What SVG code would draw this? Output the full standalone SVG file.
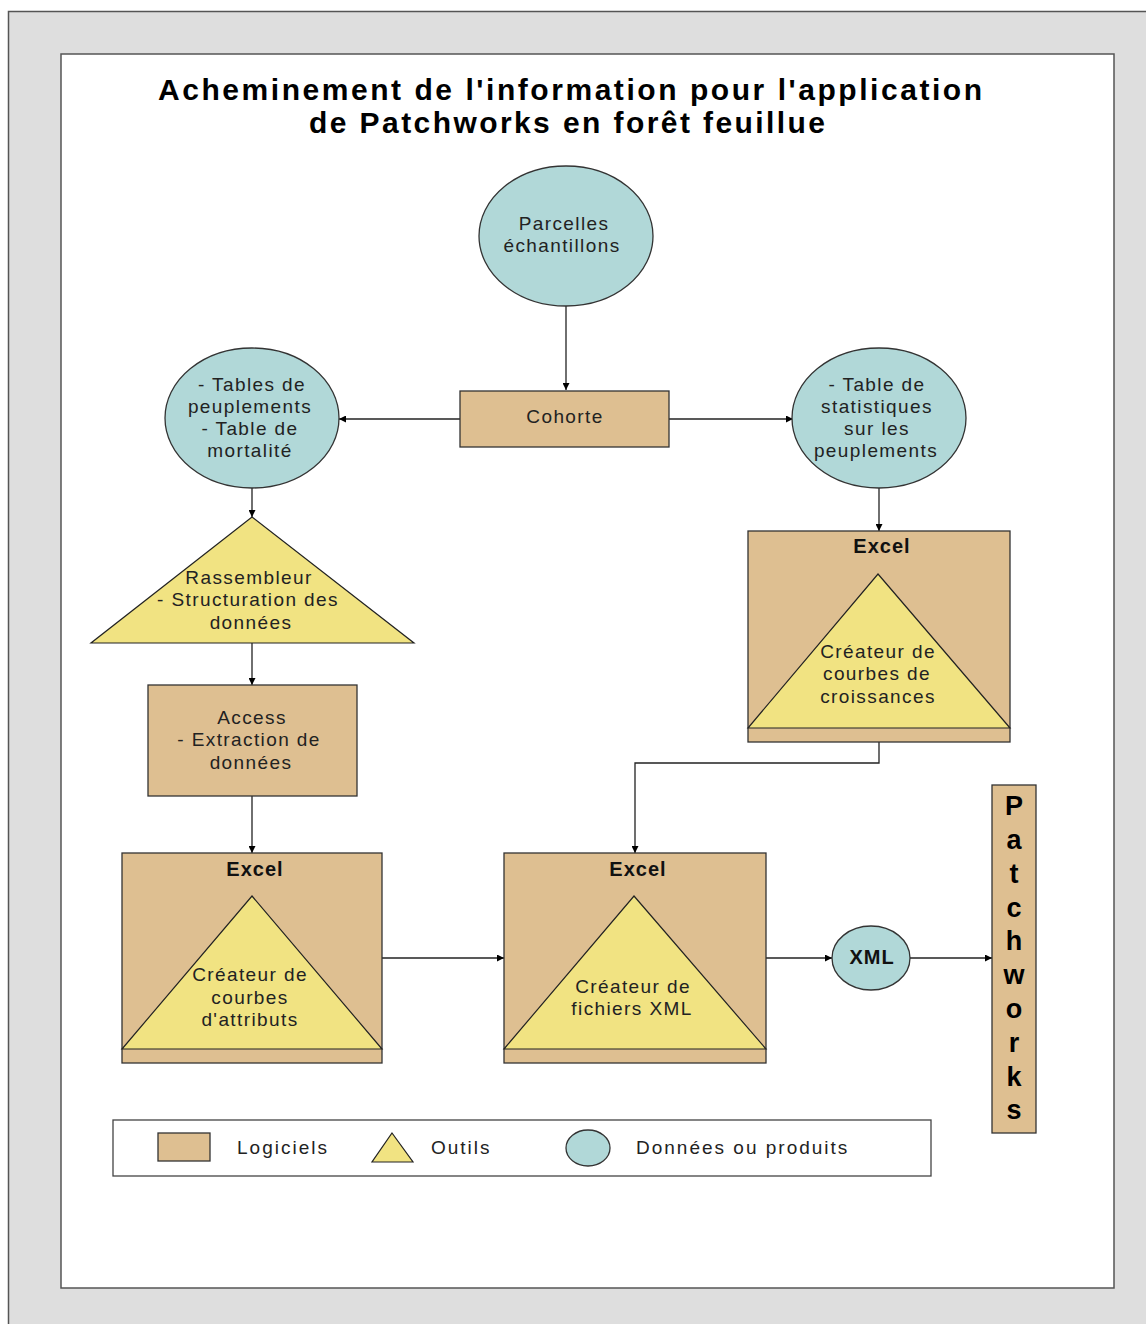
<svg xmlns="http://www.w3.org/2000/svg" width="1146" height="1324" viewBox="0 0 1146 1324">
<defs>
<marker id="arr" viewBox="0 0 10 10" refX="10" refY="5" markerWidth="7" markerHeight="7" markerUnits="userSpaceOnUse" orient="auto">
<path d="M0,0 L10,5 L0,10 z" fill="#000"/>
</marker>
<style>
.tan{fill:#DEBF91;stroke:#333;stroke-width:1.3}
.yel{fill:#F1E382;stroke:#222;stroke-width:1.2}
.blu{fill:#B1D8D8;stroke:#333;stroke-width:1.3}
.t{font-family:"Liberation Sans",Arial,sans-serif;font-size:19px;letter-spacing:1.4px;fill:#222;text-anchor:middle}
.b{font-family:"Liberation Sans",Arial,sans-serif;font-size:20px;font-weight:bold;letter-spacing:1px;fill:#111;text-anchor:middle}
.h{font-family:"Liberation Sans",Arial,sans-serif;font-size:30px;font-weight:bold;fill:#000;text-anchor:middle}
.p{font-family:"Liberation Sans",Arial,sans-serif;font-size:27px;font-weight:bold;fill:#000;text-anchor:middle}
.l{font-family:"Liberation Sans",Arial,sans-serif;font-size:19px;letter-spacing:2px;fill:#222}
.c{fill:none;stroke:#222;stroke-width:1.3}
</style>
</defs>
<rect x="0" y="0" width="1146" height="1324" fill="#fff"/>
<rect x="8.5" y="11.5" width="1150" height="1330" fill="#DEDEDE" stroke="#555" stroke-width="1.5"/>
<rect x="61" y="54" width="1053" height="1234" fill="#fff" stroke="#555" stroke-width="1.5"/>
<g id="title">
<text class="h" x="570" y="100" textLength="824" lengthAdjust="spacing">Acheminement de l'information pour l'application</text>
<text class="h" x="567" y="133" textLength="516" lengthAdjust="spacing">de Patchworks en forêt feuillue</text>
</g>
<g id="connectors">
<line class="c" x1="566" y1="306" x2="566" y2="390" marker-end="url(#arr)"/>
<line class="c" x1="460" y1="419" x2="339" y2="419" marker-end="url(#arr)"/>
<line class="c" x1="669" y1="419" x2="793" y2="419" marker-end="url(#arr)"/>
<line class="c" x1="252" y1="488" x2="252" y2="517" marker-end="url(#arr)"/>
<line class="c" x1="252" y1="643" x2="252" y2="685" marker-end="url(#arr)"/>
<line class="c" x1="252" y1="796" x2="252" y2="853" marker-end="url(#arr)"/>
<line class="c" x1="879" y1="488" x2="879" y2="531" marker-end="url(#arr)"/>
<polyline class="c" points="879,742 879,763 635,763 635,853" marker-end="url(#arr)"/>
<line class="c" x1="382" y1="958" x2="504" y2="958" marker-end="url(#arr)"/>
<line class="c" x1="766" y1="958" x2="832" y2="958" marker-end="url(#arr)"/>
<line class="c" x1="910" y1="958" x2="992" y2="958" marker-end="url(#arr)"/>
</g>
<g id="parcelles">
<ellipse class="blu" cx="566" cy="236" rx="87" ry="70"/>
<text class="t" x="564" y="230">Parcelles</text>
<text class="t" x="562" y="252">échantillons</text>
</g>
<g id="cohorte">
<rect class="tan" x="460" y="391" width="209" height="56"/>
<text class="t" x="565" y="423">Cohorte</text>
</g>
<g id="tables">
<ellipse class="blu" cx="252" cy="418" rx="87" ry="70"/>
<text class="t" x="252" y="391">- Tables de</text>
<text class="t" x="250" y="413">peuplements</text>
<text class="t" x="250" y="435">- Table de</text>
<text class="t" x="250" y="457">mortalité</text>
</g>
<g id="statistiques">
<ellipse class="blu" cx="879" cy="418" rx="87" ry="70"/>
<text class="t" x="877" y="391">- Table de</text>
<text class="t" x="877" y="413">statistiques</text>
<text class="t" x="877" y="435">sur les</text>
<text class="t" x="876" y="457">peuplements</text>
</g>
<g id="rassembleur">
<polygon class="yel" points="252,517 414,643 91,643"/>
<text class="t" x="249" y="584">Rassembleur</text>
<text class="t" x="248" y="606">- Structuration des</text>
<text class="t" x="251" y="629">données</text>
</g>
<g id="access">
<rect class="tan" x="148" y="685" width="209" height="111"/>
<text class="t" x="252" y="724">Access</text>
<text class="t" x="249" y="746">- Extraction de</text>
<text class="t" x="251" y="769">données</text>
</g>
<g id="excel-croissances">
<rect class="tan" x="748" y="531" width="262" height="211"/>
<text class="b" x="882" y="553">Excel</text>
<polygon class="yel" points="878,574 1010,728 748,728"/>
<text class="t" x="878" y="658">Créateur de</text>
<text class="t" x="877" y="680">courbes de</text>
<text class="t" x="878" y="703">croissances</text>
</g>
<g id="excel-attributs">
<rect class="tan" x="122" y="853" width="260" height="210"/>
<text class="b" x="255" y="876">Excel</text>
<polygon class="yel" points="252,896 382,1049 122,1049"/>
<text class="t" x="250" y="981">Créateur de</text>
<text class="t" x="250" y="1004">courbes</text>
<text class="t" x="250" y="1026">d'attributs</text>
</g>
<g id="excel-xml">
<rect class="tan" x="504" y="853" width="262" height="210"/>
<text class="b" x="638" y="876">Excel</text>
<polygon class="yel" points="634,896 766,1049 504,1049"/>
<text class="t" x="633" y="993">Créateur de</text>
<text class="t" x="632" y="1015">fichiers XML</text>
</g>
<g id="xml">
<ellipse class="blu" cx="871" cy="958" rx="39" ry="32"/>
<text class="b" x="872" y="964">XML</text>
</g>
<g id="patchworks">
<rect class="tan" x="992" y="785" width="44" height="348"/>
<text class="p" x="1014" y="815">P</text>
<text class="p" x="1014" y="849">a</text>
<text class="p" x="1014" y="883">t</text>
<text class="p" x="1014" y="917">c</text>
<text class="p" x="1014" y="950">h</text>
<text class="p" x="1014" y="984">w</text>
<text class="p" x="1014" y="1018">o</text>
<text class="p" x="1014" y="1052">r</text>
<text class="p" x="1014" y="1086">k</text>
<text class="p" x="1014" y="1119">s</text>
</g>
<g id="legend">
<rect x="113" y="1120" width="818" height="56" fill="#fff" stroke="#444" stroke-width="1.3"/>
<rect class="tan" x="158" y="1133" width="52" height="28"/>
<text class="l" x="237" y="1154">Logiciels</text>
<polygon class="yel" points="392,1133 413,1162 372,1162"/>
<text class="l" x="431" y="1154">Outils</text>
<ellipse class="blu" cx="588" cy="1148" rx="22" ry="18"/>
<text class="l" x="636" y="1154">Données ou produits</text>
</g>
</svg>
